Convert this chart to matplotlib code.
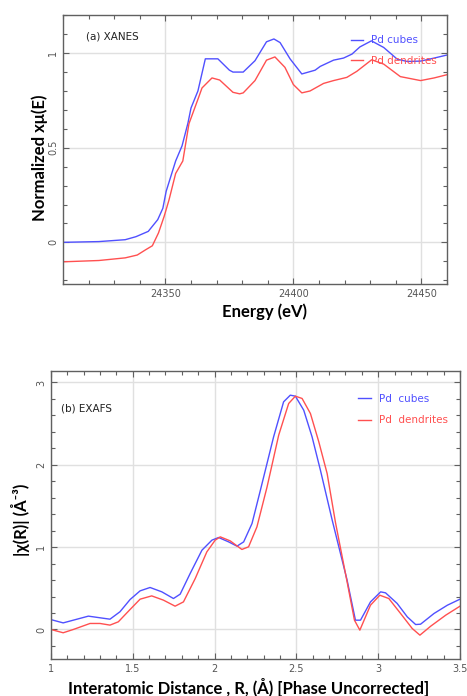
import matplotlib
matplotlib.use("Agg")
import matplotlib.pyplot as plt
from matplotlib.ticker import MultipleLocator

# (a) XANES data
energy_cubes = [24309.7, 24324, 24334.3, 24338.5, 24343.3, 24347, 24349, 24350.3, 24354, 24356.5,
                24358.8, 24360, 24362.7, 24365.6, 24370.5, 24375, 24376.4, 24380.4, 24385, 24389.5,
                24392.4, 24394.8, 24398.7, 24403.3, 24408.5, 24410.5, 24415.7, 24419.6, 24422.9,
                24426, 24430.5, 24435.3, 24440.6, 24444.5, 24449.7, 24455, 24460]
mu_cubes = [0.0, 0.004, 0.014, 0.03, 0.058, 0.12, 0.18, 0.27, 0.43, 0.51,
            0.63, 0.71, 0.80, 0.97, 0.97, 0.91, 0.90, 0.90, 0.96, 1.06,
            1.075, 1.056, 0.97, 0.89, 0.91, 0.93, 0.963, 0.974, 0.995,
            1.033, 1.065, 1.03, 0.968, 0.956, 0.958, 0.974, 0.99]

energy_dend = [24309.7, 24324, 24334.3, 24339, 24342.3, 24344.9, 24347.3, 24349.5, 24351.4, 24354,
               24356.8, 24359.2, 24363, 24364.3, 24368.2, 24371.2, 24376.4, 24379, 24380.4, 24385,
               24389.5, 24392.8, 24396.7, 24400, 24403.3, 24406.5, 24411.8, 24415.7, 24420.9,
               24424.8, 24430.6, 24435.3, 24441.8, 24449.7, 24455, 24460]
mu_dend = [-0.103, -0.096, -0.082, -0.067, -0.039, -0.018, 0.05, 0.137, 0.224, 0.364,
           0.43, 0.627, 0.767, 0.816, 0.869, 0.858, 0.793, 0.785, 0.79, 0.855,
           0.963, 0.98, 0.925, 0.834, 0.79, 0.80, 0.84, 0.855, 0.872,
           0.904, 0.965, 0.942, 0.876, 0.855, 0.869, 0.886]

# (b) EXAFS data
r_cubes = [1.0, 1.075, 1.137, 1.229, 1.30, 1.361, 1.422, 1.484, 1.545, 1.606, 1.678, 1.749,
           1.79, 1.851, 1.923, 1.984, 2.025, 2.086, 2.137, 2.178, 2.229, 2.28, 2.361, 2.422,
           2.463, 2.494, 2.545, 2.596, 2.647, 2.719, 2.81, 2.861, 2.892, 2.953, 3.015, 3.045,
           3.116, 3.178, 3.229, 3.259, 3.341, 3.423, 3.5]
chi_cubes = [0.12, 0.08, 0.113, 0.162, 0.142, 0.125, 0.215, 0.364, 0.469, 0.51, 0.457, 0.376,
             0.429, 0.68, 0.963, 1.085, 1.117, 1.064, 1.012, 1.064, 1.287, 1.69, 2.34, 2.765,
             2.846, 2.834, 2.664, 2.34, 1.935, 1.328, 0.6, 0.113, 0.113, 0.335, 0.457, 0.445,
             0.316, 0.153, 0.06, 0.064, 0.194, 0.295, 0.368]

r_dend = [1.0, 1.075, 1.137, 1.239, 1.30, 1.361, 1.412, 1.484, 1.545, 1.616, 1.688, 1.759,
          1.81, 1.882, 1.953, 2.004, 2.035, 2.096, 2.167, 2.208, 2.259, 2.321, 2.392, 2.453,
          2.494, 2.535, 2.586, 2.637, 2.688, 2.739, 2.81, 2.855, 2.888, 2.953, 3.01, 3.065,
          3.137, 3.208, 3.255, 3.321, 3.413, 3.5]
chi_dend = [0.0, -0.04, 0.0, 0.073, 0.073, 0.053, 0.093, 0.243, 0.368, 0.408, 0.356, 0.283,
            0.335, 0.619, 0.943, 1.085, 1.125, 1.076, 0.972, 1.004, 1.246, 1.732, 2.36, 2.745,
            2.834, 2.806, 2.623, 2.28, 1.895, 1.3, 0.58, 0.113, -0.008, 0.295, 0.416, 0.376,
            0.194, 0.012, -0.069, 0.04, 0.174, 0.283]

blue = '#5050ff'
red = '#ff5050'
spine_col = '#606060'
label_font = ['Lato', 'DejaVu Sans']

fig = plt.figure(figsize=(4.67, 6.96), dpi=100)


def style_axes(ax):
    for s in ax.spines.values():
        s.set_color(spine_col)
        s.set_linewidth(1.0)
    ax.tick_params(which='both', direction='in', top=True, right=True,
                   colors=spine_col, labelcolor='#555555', labelsize=7)
    ax.tick_params(which='major', length=4, width=0.8)
    ax.tick_params(which='minor', length=3, width=0.8)
    ax.grid(True, which='major', color='#e0e0e0', linewidth=1.0)
    ax.set_axisbelow(True)
    for lab in ax.get_yticklabels():
        lab.set_rotation(90)
        lab.set_va('center')


# top panel
ax1 = fig.add_axes([0.135, 0.592, 0.822, 0.386])
ax1.plot(energy_cubes, mu_cubes, color=blue, lw=1.0, label='Pd cubes')
ax1.plot(energy_dend, mu_dend, color=red, lw=1.0, label='Pd dendrites')
ax1.set_xlim(24310, 24460)
ax1.set_ylim(-0.22, 1.2)
ax1.set_xticks([24350, 24400, 24450])
ax1.set_yticks([0, 0.5, 1])
ax1.set_yticklabels(['0', '0.5', '1'])
ax1.xaxis.set_minor_locator(MultipleLocator(10))
ax1.yaxis.set_minor_locator(MultipleLocator(0.1))
style_axes(ax1)
ax1.text(0.06, 0.92, '(a) XANES', transform=ax1.transAxes, fontsize=7.5,
         color='#222222', va='center', ha='left')
leg1 = ax1.legend(loc='upper left', bbox_to_anchor=(0.75, 0.925), frameon=False,
                  fontsize=7.5, labelcolor='linecolor', handlelength=1.2,
                  handletextpad=0.7, labelspacing=1.0, borderpad=0, borderaxespad=0)
fig.text(0.567, 0.552, 'Energy (eV)', ha='center', va='center', fontsize=12,
         fontweight='bold', family=label_font)
fig.text(0.086, 0.774, 'Normalized x\u03bc(E)', ha='center', va='center', fontsize=12,
         fontweight='bold', family=label_font, rotation=90)

# bottom panel
ax2 = fig.add_axes([0.109, 0.053, 0.876, 0.414])
ax2.plot(r_cubes, chi_cubes, color=blue, lw=1.0, label='Pd  cubes')
ax2.plot(r_dend, chi_dend, color=red, lw=1.0, label='Pd  dendrites')
ax2.set_xlim(1, 3.5)
ax2.set_ylim(-0.36, 3.14)
ax2.set_xticks([1, 1.5, 2, 2.5, 3, 3.5])
ax2.set_xticklabels(['1', '1.5', '2', '2.5', '3', '3.5'])
ax2.set_yticks([0, 1, 2, 3])
ax2.xaxis.set_minor_locator(MultipleLocator(0.1))
ax2.yaxis.set_minor_locator(MultipleLocator(0.2))
style_axes(ax2)
ax2.text(0.025, 0.87, '(b) EXAFS', transform=ax2.transAxes, fontsize=7.5,
         color='#222222', va='center', ha='left')
leg2 = ax2.legend(loc='upper left', bbox_to_anchor=(0.751, 0.92), frameon=False,
                  fontsize=7.5, labelcolor='linecolor', handlelength=1.2,
                  handletextpad=0.8, labelspacing=1.1, borderpad=0, borderaxespad=0)
fig.text(0.532, 0.0115, 'Interatomic Distance , R, (\u00c5) [Phase Uncorrected]',
         ha='center', va='center', fontsize=12, fontweight='bold', family=label_font)
fig.text(0.043, 0.253, '|\u03c7(R)| (\u00c5\u207b\u00b3)', ha='center', va='center',
         fontsize=12, fontweight='bold', family=label_font, rotation=90)

fig.savefig('out.png', dpi=100)
